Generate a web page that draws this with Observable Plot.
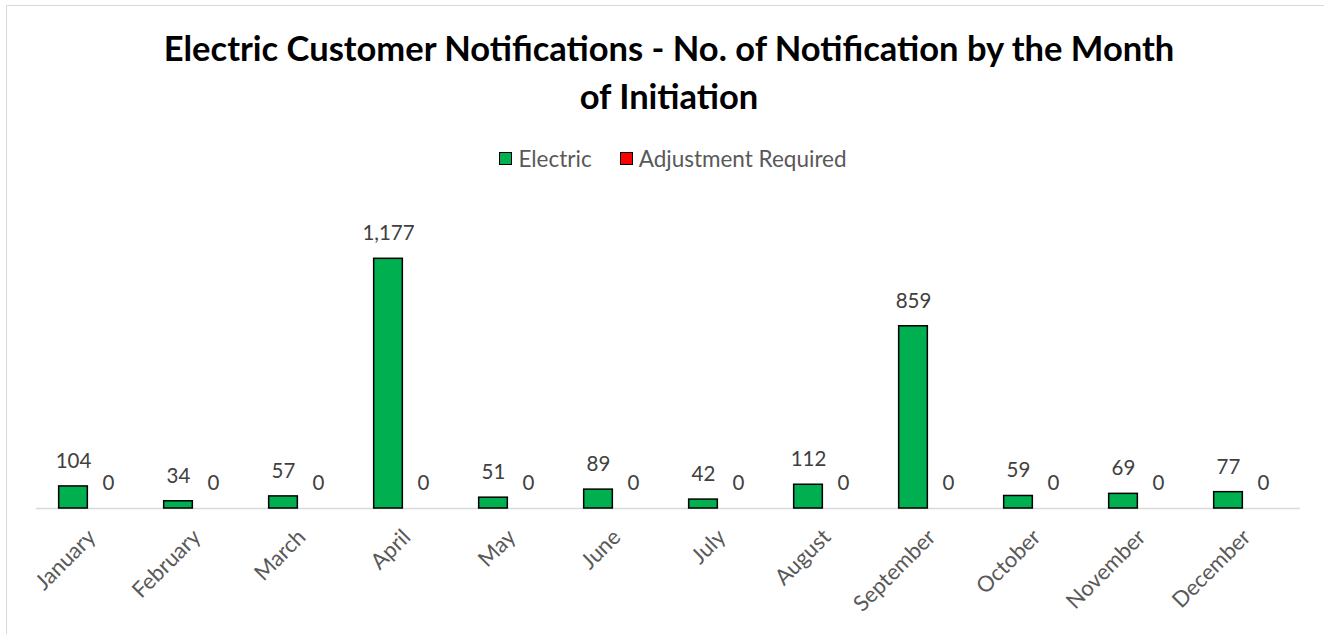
<!DOCTYPE html>
<html>
<head>
<meta charset="utf-8">
<script src="https://cdn.jsdelivr.net/npm/d3@7"></script>
<script src="https://cdn.jsdelivr.net/npm/@observablehq/plot@0.6"></script>
<style>
  html, body { margin: 0; padding: 0; background: #fff; }
  body { width: 1324px; height: 634px; overflow: hidden; position: relative; font-family: Lato, "Open Sans", sans-serif; }
  #frame { position: absolute; left: 6px; top: 5px; width: 1340px; height: 660px; border: 1.5px solid #d9d9d9; box-sizing: border-box; }
  #title { position: absolute; left: 6px; width: 1326px; top: 24px; text-align: center; font-weight: bold; font-size: 34.5px; line-height: 48px; color: #000; }
  #legend { position: absolute; left: 0; width: 1346px; top: 143px; text-align: center; font-size: 22.5px; color: #595959; line-height: 28px; }
  .item { display: inline-flex; align-items: center; margin: 0 14px; }
  .sw { display: inline-block; width: 11px; height: 11px; border: 1.2px solid #000; margin-right: 6px; }
  #chart { position: absolute; left: 0; top: 175px; }
</style>
</head>
<body>
<div id="frame"></div>
<div id="title">Electric Customer Notifications - No. of Notification by the Month<br>of Initiation</div>
<div id="legend"></div>
<div id="chart"></div>
<script>
const months = ["January","February","March","April","May","June","July","August","September","October","November","December"];
const electric = [104, 34, 57, 1177, 51, 89, 42, 112, 859, 59, 69, 77];
const adjustment = [0, 0, 0, 0, 0, 0, 0, 0, 0, 0, 0, 0];
const seriesNames = ["Electric", "Adjustment Required"];
const seriesColors = ["#00B050", "#FF0000"];

const elecData = months.map((m, i) => ({month: m, value: electric[i]}));
const adjData = months.map((m, i) => ({month: m, value: adjustment[i]}));
const fmt = d3.format(",");

// legend
const legend = document.getElementById("legend");
seriesNames.forEach((s, i) => {
  const it = document.createElement("span");
  it.className = "item";
  it.innerHTML = `<span class="sw" style="background:${seriesColors[i]}"></span>${s}`;
  legend.appendChild(it);
});

const W = 1324, H = 459;
const x0 = 33.33, x1 = 1297.33;
const band = (x1 - x0) / 12;
const barW = 29;

const chart = Plot.plot({
  width: W,
  height: H,
  marginLeft: x0,
  marginRight: W - x1,
  marginTop: 36,
  marginBottom: 126,
  style: {fontFamily: "Lato, 'Open Sans', sans-serif", background: "transparent"},
  x: {type: "band", domain: months, padding: 0, label: null},
  y: {domain: [0, 1400], axis: null},
  marks: [
    Plot.ruleY([0], {stroke: "#d9d9d9", strokeWidth: 1.5, dx: 2.5}),
    Plot.barY(elecData, {x: "month", y: "value", fill: seriesColors[0], stroke: "#000", strokeWidth: 1.5,
      insetLeft: band / 2 - barW, insetRight: band / 2}),
    Plot.barY(adjData, {x: "month", y: "value", fill: seriesColors[1], stroke: "#000", strokeWidth: 1.5,
      insetLeft: band / 2, insetRight: band / 2 - barW}),
    Plot.text(elecData, {x: "month", y: "value", text: d => fmt(d.value), dx: -barW / 2, dy: -18.5,
      lineAnchor: "bottom", fontSize: 20.5, fill: "#404040"}),
    Plot.text(adjData, {x: "month", y: "value", text: d => fmt(d.value), dx: barW / 2 + 6, dy: -18.5,
      lineAnchor: "bottom", fontSize: 20.5, fill: "#404040"}),
    Plot.axisX({tickRotate: -45, tickSize: 0, tickPadding: 25, dx: 4, fontSize: 22, fill: "#595959", label: null})
  ]
});
document.getElementById("chart").appendChild(chart);
</script>
</body>
</html>
